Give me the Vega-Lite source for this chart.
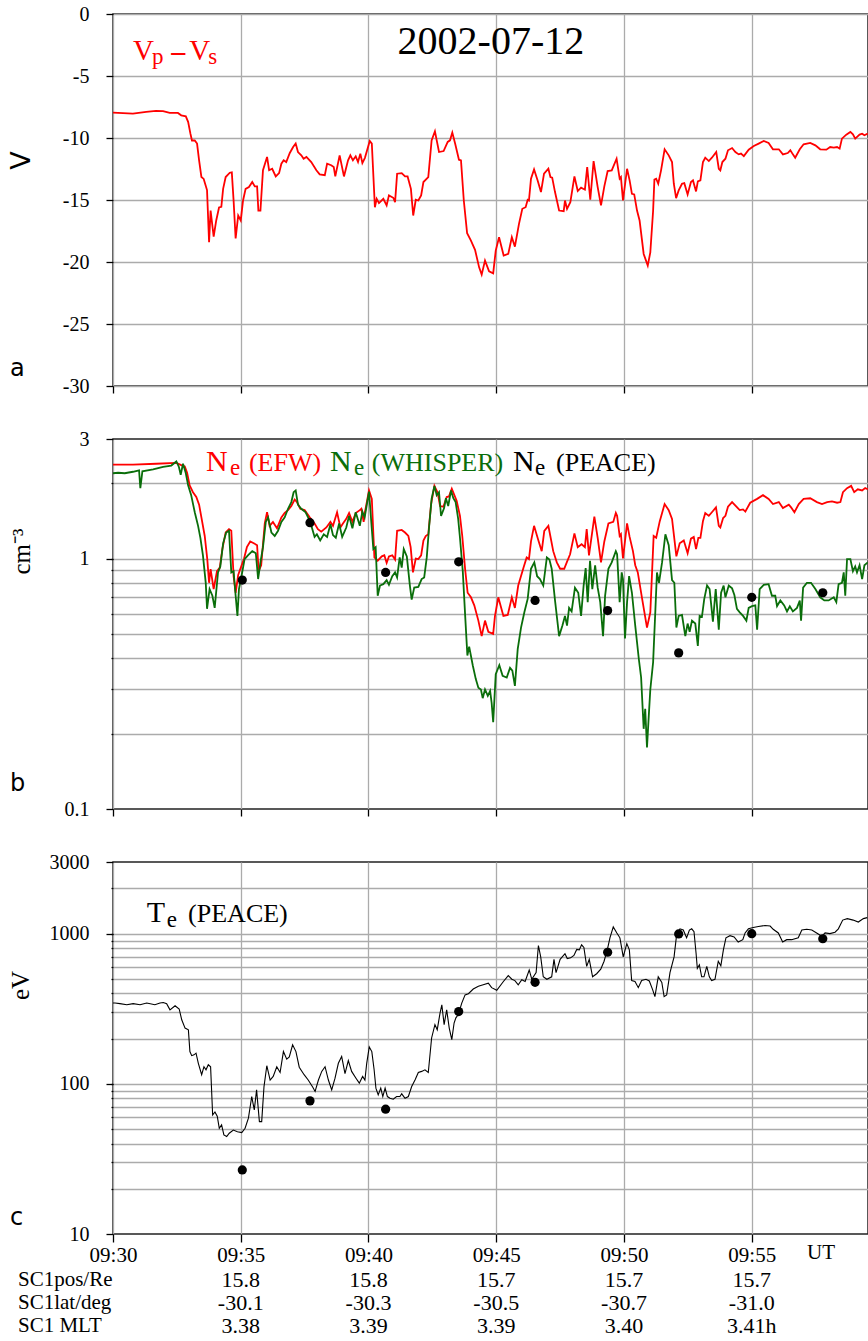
{
"$schema":"https://vega.github.io/schema/vega-lite/v6.json",
"background":"white",
"padding":{"left":6,"top":3,"right":0,"bottom":0},
"config":{
 "view":{"stroke":"#222","strokeWidth":1.5},
 "font":"Liberation Serif",
 "axis":{"labelFont":"Liberation Serif","labelFontSize":20,"labelColor":"#000","tickColor":"#000","tickWidth":1.3,"domain":false,"gridColor":"#ababab","gridWidth":1.3,"titleFont":"Liberation Serif","titleFontWeight":"normal","titleColor":"#000","titleFontSize":24,"labelFlush":false,"labelOverlap":false},
 "text":{"font":"Liberation Serif","color":"#000"}
},
"datasets":{
"vdiff":[{"t":0,"v":-7.95},{"t":0.78,"v":-8.03},{"t":1.3,"v":-7.9},{"t":1.68,"v":-7.82},{"t":1.96,"v":-7.84},{"t":2.22,"v":-7.98},{"t":2.54,"v":-7.98},{"t":2.67,"v":-8.17},{"t":2.85,"v":-8.25},{"t":2.94,"v":-8.7},{"t":3.03,"v":-9.65},{"t":3.09,"v":-10.2},{"t":3.2,"v":-10.2},{"t":3.29,"v":-10.45},{"t":3.37,"v":-11.8},{"t":3.46,"v":-13.15},{"t":3.55,"v":-13.3},{"t":3.68,"v":-14.2},{"t":3.76,"v":-18.4},{"t":3.82,"v":-15.85},{"t":3.94,"v":-17.95},{"t":4.04,"v":-16.65},{"t":4.15,"v":-15.6},{"t":4.24,"v":-15.55},{"t":4.31,"v":-14.1},{"t":4.41,"v":-13.15},{"t":4.57,"v":-12.8},{"t":4.65,"v":-12.77},{"t":4.72,"v":-15.04},{"t":4.8,"v":-18.1},{"t":4.9,"v":-16.25},{"t":5.0,"v":-16.65},{"t":5.09,"v":-15.04},{"t":5.19,"v":-14.1},{"t":5.32,"v":-13.95},{"t":5.45,"v":-13.55},{"t":5.55,"v":-13.9},{"t":5.64,"v":-13.9},{"t":5.69,"v":-15.85},{"t":5.77,"v":-15.85},{"t":5.87,"v":-12.6},{"t":6.03,"v":-11.53},{"t":6.11,"v":-12.6},{"t":6.23,"v":-12.48},{"t":6.37,"v":-13.1},{"t":6.5,"v":-12.83},{"t":6.59,"v":-12.07},{"t":6.68,"v":-11.8},{"t":6.78,"v":-11.94},{"t":6.92,"v":-11.21},{"t":7.05,"v":-10.73},{"t":7.15,"v":-10.45},{"t":7.24,"v":-11.13},{"t":7.37,"v":-11.4},{"t":7.46,"v":-11.67},{"t":7.57,"v":-11.53},{"t":7.76,"v":-11.94},{"t":7.96,"v":-12.6},{"t":8.09,"v":-12.93},{"t":8.29,"v":-13.0},{"t":8.38,"v":-12.07},{"t":8.54,"v":-12.2},{"t":8.64,"v":-12.34},{"t":8.7,"v":-13.1},{"t":8.87,"v":-11.4},{"t":9.04,"v":-13.1},{"t":9.2,"v":-11.8},{"t":9.29,"v":-11.4},{"t":9.39,"v":-11.8},{"t":9.5,"v":-11.48},{"t":9.59,"v":-11.94},{"t":9.68,"v":-11.26},{"t":9.76,"v":-12.02},{"t":9.86,"v":-11.6},{"t":10.05,"v":-10.24},{"t":10.13,"v":-10.45},{"t":10.25,"v":-15.58},{"t":10.32,"v":-14.9},{"t":10.41,"v":-15.25},{"t":10.58,"v":-14.9},{"t":10.71,"v":-15.44},{"t":10.8,"v":-14.63},{"t":10.97,"v":-14.82},{"t":11.04,"v":-15.17},{"t":11.12,"v":-12.88},{"t":11.3,"v":-12.83},{"t":11.43,"v":-13.1},{"t":11.53,"v":-13.1},{"t":11.66,"v":-14.1},{"t":11.75,"v":-16.25},{"t":11.85,"v":-14.98},{"t":11.95,"v":-15.04},{"t":12.06,"v":-14.63},{"t":12.15,"v":-13.55},{"t":12.34,"v":-13.15},{"t":12.47,"v":-10.19},{"t":12.6,"v":-9.46},{"t":12.76,"v":-11.13},{"t":12.94,"v":-11.05},{"t":13.1,"v":-10.32},{"t":13.19,"v":-10.19},{"t":13.28,"v":-9.56},{"t":13.39,"v":-10.45},{"t":13.54,"v":-11.75},{"t":13.62,"v":-11.8},{"t":13.73,"v":-15.04},{"t":13.86,"v":-17.68},{"t":14.01,"v":-18.27},{"t":14.17,"v":-19.02},{"t":14.33,"v":-20.43},{"t":14.43,"v":-21.02},{"t":14.56,"v":-19.89},{"t":14.72,"v":-20.75},{"t":14.88,"v":-20.91},{"t":14.98,"v":-19.08},{"t":15.11,"v":-18.0},{"t":15.29,"v":-19.48},{"t":15.47,"v":-19.35},{"t":15.61,"v":-18.0},{"t":15.73,"v":-18.76},{"t":15.89,"v":-16.92},{"t":16.02,"v":-15.71},{"t":16.15,"v":-15.58},{"t":16.23,"v":-14.98},{"t":16.28,"v":-15.04},{"t":16.36,"v":-13.28},{"t":16.48,"v":-12.53},{"t":16.62,"v":-13.42},{"t":16.75,"v":-14.36},{"t":16.87,"v":-12.88},{"t":17.04,"v":-12.48},{"t":17.12,"v":-13.15},{"t":17.19,"v":-13.2},{"t":17.3,"v":-14.36},{"t":17.46,"v":-15.85},{"t":17.64,"v":-15.9},{"t":17.69,"v":-15.04},{"t":17.77,"v":-15.71},{"t":17.9,"v":-15.17},{"t":18.06,"v":-13.1},{"t":18.19,"v":-14.28},{"t":18.32,"v":-14.01},{"t":18.47,"v":-14.17},{"t":18.56,"v":-12.34},{"t":18.68,"v":-14.98},{"t":18.81,"v":-11.86},{"t":18.97,"v":-13.96},{"t":19.1,"v":-15.44},{"t":19.23,"v":-13.9},{"t":19.36,"v":-12.67},{"t":19.52,"v":-12.61},{"t":19.71,"v":-11.67},{"t":19.83,"v":-13.28},{"t":19.88,"v":-13.15},{"t":19.96,"v":-15.04},{"t":20.12,"v":-12.48},{"t":20.22,"v":-13.42},{"t":20.31,"v":-14.5},{"t":20.4,"v":-14.55},{"t":20.51,"v":-15.85},{"t":20.61,"v":-16.65},{"t":20.77,"v":-19.35},{"t":20.93,"v":-20.29},{"t":21.03,"v":-19.22},{"t":21.14,"v":-15.85},{"t":21.19,"v":-13.36},{"t":21.26,"v":-13.28},{"t":21.34,"v":-13.69},{"t":21.45,"v":-12.61},{"t":21.59,"v":-10.91},{"t":21.75,"v":-11.4},{"t":21.88,"v":-11.94},{"t":21.95,"v":-13.69},{"t":22.04,"v":-14.85},{"t":22.14,"v":-14.23},{"t":22.27,"v":-13.69},{"t":22.36,"v":-13.64},{"t":22.49,"v":-14.55},{"t":22.62,"v":-13.55},{"t":22.7,"v":-13.42},{"t":22.82,"v":-14.31},{"t":22.89,"v":-13.5},{"t":22.99,"v":-13.42},{"t":23.09,"v":-11.94},{"t":23.18,"v":-11.59},{"t":23.32,"v":-11.86},{"t":23.44,"v":-11.59},{"t":23.61,"v":-11.13},{"t":23.71,"v":-12.48},{"t":23.77,"v":-12.61},{"t":23.85,"v":-11.94},{"t":23.97,"v":-11.67},{"t":24.07,"v":-10.99},{"t":24.23,"v":-10.81},{"t":24.36,"v":-11.13},{"t":24.49,"v":-11.32},{"t":24.58,"v":-11.26},{"t":24.69,"v":-11.46},{"t":24.88,"v":-10.94},{"t":25.08,"v":-10.65},{"t":25.27,"v":-10.45},{"t":25.47,"v":-10.24},{"t":25.66,"v":-10.4},{"t":25.83,"v":-10.91},{"t":26.06,"v":-10.91},{"t":26.22,"v":-11.32},{"t":26.41,"v":-11.21},{"t":26.51,"v":-10.99},{"t":26.61,"v":-11.32},{"t":26.7,"v":-11.59},{"t":26.88,"v":-10.91},{"t":27.03,"v":-10.51},{"t":27.29,"v":-10.4},{"t":27.49,"v":-10.59},{"t":27.68,"v":-10.91},{"t":27.92,"v":-10.94},{"t":28.07,"v":-10.73},{"t":28.21,"v":-10.78},{"t":28.34,"v":-10.73},{"t":28.44,"v":-10.86},{"t":28.53,"v":-10.05},{"t":28.7,"v":-9.73},{"t":28.86,"v":-9.51},{"t":28.96,"v":-9.7},{"t":29.05,"v":-10.05},{"t":29.22,"v":-9.73},{"t":29.32,"v":-9.65},{"t":29.41,"v":-9.78},{"t":29.54,"v":-9.65}],
"efw":[{"t":0,"n":2.37},{"t":0.78,"n":2.37},{"t":1.69,"n":2.39},{"t":2.48,"n":2.41},{"t":2.67,"n":2.36},{"t":2.81,"n":2.33},{"t":2.9,"n":2.2},{"t":3.0,"n":1.96},{"t":3.13,"n":1.84},{"t":3.26,"n":1.76},{"t":3.37,"n":1.64},{"t":3.46,"n":1.46},{"t":3.59,"n":1.23},{"t":3.69,"n":0.995},{"t":3.76,"n":0.8},{"t":3.82,"n":0.908},{"t":3.94,"n":0.755},{"t":4.07,"n":0.89},{"t":4.18,"n":0.92},{"t":4.28,"n":1.09},{"t":4.41,"n":1.27},{"t":4.54,"n":1.31},{"t":4.63,"n":1.29},{"t":4.72,"n":0.85},{"t":4.8,"n":0.73},{"t":4.9,"n":0.86},{"t":5.02,"n":0.93},{"t":5.13,"n":1.0},{"t":5.24,"n":1.11},{"t":5.37,"n":1.17},{"t":5.51,"n":1.15},{"t":5.64,"n":1.13},{"t":5.7,"n":0.89},{"t":5.8,"n":0.94},{"t":5.94,"n":1.38},{"t":6.03,"n":1.53},{"t":6.13,"n":1.35},{"t":6.26,"n":1.4},{"t":6.42,"n":1.32},{"t":6.59,"n":1.46},{"t":6.72,"n":1.52},{"t":6.85,"n":1.56},{"t":6.98,"n":1.62},{"t":7.11,"n":1.72},{"t":7.2,"n":1.68},{"t":7.33,"n":1.58},{"t":7.5,"n":1.56},{"t":7.7,"n":1.46},{"t":7.89,"n":1.38},{"t":8.02,"n":1.31},{"t":8.15,"n":1.28},{"t":8.35,"n":1.33},{"t":8.51,"n":1.4},{"t":8.61,"n":1.35},{"t":8.77,"n":1.53},{"t":8.9,"n":1.33},{"t":9.0,"n":1.38},{"t":9.13,"n":1.44},{"t":9.24,"n":1.52},{"t":9.37,"n":1.4},{"t":9.5,"n":1.52},{"t":9.66,"n":1.56},{"t":9.72,"n":1.58},{"t":9.81,"n":1.4},{"t":9.86,"n":1.53},{"t":10.02,"n":1.87},{"t":10.13,"n":1.73},{"t":10.23,"n":1.01},{"t":10.36,"n":0.98},{"t":10.52,"n":1.02},{"t":10.62,"n":1.03},{"t":10.71,"n":0.96},{"t":10.8,"n":1.02},{"t":10.93,"n":1.03},{"t":11.04,"n":0.99},{"t":11.12,"n":1.29},{"t":11.3,"n":1.3},{"t":11.43,"n":1.27},{"t":11.56,"n":1.23},{"t":11.65,"n":1.11},{"t":11.74,"n":0.88},{"t":11.85,"n":1.0},{"t":11.95,"n":0.995},{"t":12.06,"n":1.03},{"t":12.15,"n":1.18},{"t":12.24,"n":1.23},{"t":12.34,"n":1.25},{"t":12.45,"n":1.65},{"t":12.58,"n":1.95},{"t":12.71,"n":1.83},{"t":12.8,"n":1.62},{"t":12.93,"n":1.61},{"t":13.06,"n":1.76},{"t":13.15,"n":1.77},{"t":13.26,"n":1.9},{"t":13.36,"n":1.79},{"t":13.45,"n":1.7},{"t":13.58,"n":1.48},{"t":13.67,"n":1.23},{"t":13.78,"n":0.91},{"t":13.88,"n":0.73},{"t":14.01,"n":0.7},{"t":14.14,"n":0.65},{"t":14.3,"n":0.565},{"t":14.43,"n":0.49},{"t":14.56,"n":0.565},{"t":14.69,"n":0.51},{"t":14.88,"n":0.5},{"t":14.95,"n":0.59},{"t":15.08,"n":0.7},{"t":15.28,"n":0.59},{"t":15.45,"n":0.595},{"t":15.61,"n":0.7},{"t":15.73,"n":0.635},{"t":15.86,"n":0.78},{"t":16.06,"n":0.915},{"t":16.19,"n":1.01},{"t":16.28,"n":0.995},{"t":16.36,"n":1.17},{"t":16.48,"n":1.35},{"t":16.65,"n":1.18},{"t":16.78,"n":1.07},{"t":16.88,"n":1.29},{"t":17.04,"n":1.35},{"t":17.13,"n":1.21},{"t":17.23,"n":1.07},{"t":17.37,"n":0.965},{"t":17.5,"n":0.91},{"t":17.66,"n":0.91},{"t":17.76,"n":0.965},{"t":17.89,"n":1.04},{"t":18.06,"n":1.26},{"t":18.19,"n":1.11},{"t":18.34,"n":1.14},{"t":18.47,"n":1.11},{"t":18.54,"n":1.31},{"t":18.63,"n":1.03},{"t":18.84,"n":1.47},{"t":18.97,"n":1.21},{"t":19.1,"n":0.965},{"t":19.23,"n":1.17},{"t":19.39,"n":1.38},{"t":19.58,"n":1.4},{"t":19.68,"n":1.52},{"t":19.73,"n":1.48},{"t":19.83,"n":1.23},{"t":19.88,"n":1.25},{"t":19.96,"n":1.0},{"t":20.12,"n":1.38},{"t":20.22,"n":1.22},{"t":20.35,"n":1.07},{"t":20.44,"n":0.94},{"t":20.54,"n":0.88},{"t":20.71,"n":0.69},{"t":20.9,"n":0.53},{"t":21.03,"n":0.61},{"t":21.16,"n":1.23},{"t":21.26,"n":1.21},{"t":21.4,"n":1.41},{"t":21.59,"n":1.65},{"t":21.75,"n":1.56},{"t":21.88,"n":1.44},{"t":22.05,"n":1.02},{"t":22.18,"n":1.15},{"t":22.34,"n":1.18},{"t":22.49,"n":1.05},{"t":22.62,"n":1.2},{"t":22.73,"n":1.22},{"t":22.82,"n":1.09},{"t":22.91,"n":1.21},{"t":22.99,"n":1.21},{"t":23.09,"n":1.41},{"t":23.18,"n":1.52},{"t":23.32,"n":1.48},{"t":23.44,"n":1.53},{"t":23.6,"n":1.6},{"t":23.71,"n":1.35},{"t":23.77,"n":1.33},{"t":23.88,"n":1.45},{"t":23.97,"n":1.48},{"t":24.07,"n":1.61},{"t":24.23,"n":1.68},{"t":24.4,"n":1.61},{"t":24.53,"n":1.56},{"t":24.66,"n":1.57},{"t":24.75,"n":1.54},{"t":24.94,"n":1.67},{"t":25.21,"n":1.73},{"t":25.44,"n":1.79},{"t":25.66,"n":1.73},{"t":25.83,"n":1.65},{"t":26.06,"n":1.68},{"t":26.22,"n":1.59},{"t":26.45,"n":1.64},{"t":26.54,"n":1.6},{"t":26.67,"n":1.53},{"t":26.84,"n":1.65},{"t":27.03,"n":1.73},{"t":27.29,"n":1.74},{"t":27.55,"n":1.68},{"t":27.75,"n":1.65},{"t":27.95,"n":1.68},{"t":28.14,"n":1.69},{"t":28.34,"n":1.67},{"t":28.47,"n":1.68},{"t":28.57,"n":1.84},{"t":28.73,"n":1.91},{"t":28.89,"n":1.95},{"t":29.01,"n":1.84},{"t":29.15,"n":1.89},{"t":29.32,"n":1.87},{"t":29.44,"n":1.91},{"t":29.54,"n":1.89}],
"whisper":[{"t":0,"n":2.19},{"t":0.2,"n":2.2},{"t":0.46,"n":2.19},{"t":0.78,"n":2.22},{"t":1.02,"n":2.25},{"t":1.07,"n":1.91},{"t":1.15,"n":2.23},{"t":1.57,"n":2.27},{"t":1.96,"n":2.32},{"t":2.28,"n":2.35},{"t":2.48,"n":2.44},{"t":2.58,"n":2.32},{"t":2.65,"n":2.16},{"t":2.74,"n":2.39},{"t":2.85,"n":2.19},{"t":2.94,"n":1.96},{"t":3.06,"n":1.79},{"t":3.2,"n":1.53},{"t":3.33,"n":1.35},{"t":3.42,"n":1.21},{"t":3.52,"n":1.03},{"t":3.63,"n":0.8},{"t":3.68,"n":0.63},{"t":3.78,"n":0.755},{"t":3.89,"n":0.71},{"t":3.98,"n":0.635},{"t":4.11,"n":0.88},{"t":4.2,"n":0.93},{"t":4.31,"n":1.15},{"t":4.43,"n":1.27},{"t":4.54,"n":1.29},{"t":4.63,"n":0.88},{"t":4.72,"n":0.89},{"t":4.8,"n":0.71},{"t":4.87,"n":0.59},{"t":4.93,"n":0.755},{"t":5.02,"n":0.84},{"t":5.15,"n":0.995},{"t":5.28,"n":1.03},{"t":5.45,"n":1.07},{"t":5.59,"n":1.05},{"t":5.68,"n":0.828},{"t":5.77,"n":0.965},{"t":5.87,"n":1.11},{"t":5.98,"n":1.4},{"t":6.07,"n":1.46},{"t":6.2,"n":1.27},{"t":6.33,"n":1.23},{"t":6.46,"n":1.29},{"t":6.59,"n":1.4},{"t":6.72,"n":1.46},{"t":6.85,"n":1.58},{"t":6.98,"n":1.68},{"t":7.07,"n":1.84},{"t":7.15,"n":1.87},{"t":7.24,"n":1.64},{"t":7.37,"n":1.58},{"t":7.54,"n":1.53},{"t":7.72,"n":1.4},{"t":7.89,"n":1.22},{"t":7.98,"n":1.25},{"t":8.11,"n":1.18},{"t":8.25,"n":1.25},{"t":8.38,"n":1.22},{"t":8.51,"n":1.37},{"t":8.61,"n":1.24},{"t":8.72,"n":1.21},{"t":8.85,"n":1.38},{"t":8.97,"n":1.22},{"t":9.13,"n":1.33},{"t":9.24,"n":1.48},{"t":9.37,"n":1.32},{"t":9.5,"n":1.53},{"t":9.66,"n":1.35},{"t":9.76,"n":1.54},{"t":9.85,"n":1.46},{"t":10.02,"n":1.85},{"t":10.13,"n":1.31},{"t":10.19,"n":1.09},{"t":10.28,"n":1.11},{"t":10.36,"n":0.71},{"t":10.45,"n":0.78},{"t":10.58,"n":0.79},{"t":10.71,"n":0.82},{"t":10.8,"n":0.785},{"t":10.93,"n":0.85},{"t":11.04,"n":0.88},{"t":11.12,"n":0.84},{"t":11.22,"n":1.01},{"t":11.3,"n":0.92},{"t":11.38,"n":1.09},{"t":11.5,"n":1.02},{"t":11.62,"n":0.78},{"t":11.69,"n":0.685},{"t":11.79,"n":0.765},{"t":11.95,"n":0.77},{"t":12.08,"n":0.828},{"t":12.18,"n":0.84},{"t":12.28,"n":1.01},{"t":12.37,"n":1.33},{"t":12.47,"n":1.73},{"t":12.58,"n":1.95},{"t":12.67,"n":1.79},{"t":12.76,"n":1.84},{"t":12.84,"n":1.48},{"t":12.96,"n":1.59},{"t":13.03,"n":1.74},{"t":13.12,"n":1.62},{"t":13.23,"n":1.87},{"t":13.32,"n":1.74},{"t":13.41,"n":1.68},{"t":13.51,"n":1.44},{"t":13.58,"n":1.21},{"t":13.69,"n":0.89},{"t":13.78,"n":0.6},{"t":13.87,"n":0.41},{"t":13.94,"n":0.445},{"t":14.08,"n":0.375},{"t":14.2,"n":0.33},{"t":14.3,"n":0.305},{"t":14.4,"n":0.3},{"t":14.47,"n":0.277},{"t":14.56,"n":0.3},{"t":14.67,"n":0.283},{"t":14.76,"n":0.296},{"t":14.82,"n":0.265},{"t":14.88,"n":0.222},{"t":14.98,"n":0.345},{"t":15.12,"n":0.375},{"t":15.25,"n":0.34},{"t":15.41,"n":0.335},{"t":15.54,"n":0.366},{"t":15.63,"n":0.357},{"t":15.73,"n":0.31},{"t":15.84,"n":0.435},{"t":15.97,"n":0.53},{"t":16.1,"n":0.61},{"t":16.23,"n":0.69},{"t":16.36,"n":0.91},{"t":16.49,"n":0.965},{"t":16.6,"n":0.85},{"t":16.71,"n":0.828},{"t":16.84,"n":0.78},{"t":16.98,"n":1.01},{"t":17.08,"n":0.99},{"t":17.17,"n":0.91},{"t":17.3,"n":0.68},{"t":17.46,"n":0.49},{"t":17.59,"n":0.54},{"t":17.69,"n":0.59},{"t":17.77,"n":0.54},{"t":17.85,"n":0.635},{"t":17.95,"n":0.615},{"t":18.08,"n":0.765},{"t":18.21,"n":0.73},{"t":18.32,"n":0.59},{"t":18.42,"n":0.78},{"t":18.5,"n":0.915},{"t":18.58,"n":0.67},{"t":18.67,"n":0.98},{"t":18.76,"n":0.755},{"t":18.87,"n":0.94},{"t":18.97,"n":0.765},{"t":19.07,"n":0.67},{"t":19.18,"n":0.49},{"t":19.26,"n":0.71},{"t":19.39,"n":0.91},{"t":19.52,"n":0.965},{"t":19.68,"n":1.07},{"t":19.73,"n":1.04},{"t":19.83,"n":0.67},{"t":19.91,"n":0.88},{"t":19.96,"n":0.828},{"t":20.04,"n":0.48},{"t":20.12,"n":0.67},{"t":20.2,"n":0.85},{"t":20.31,"n":0.73},{"t":20.44,"n":0.54},{"t":20.58,"n":0.397},{"t":20.67,"n":0.335},{"t":20.77,"n":0.209},{"t":20.83,"n":0.251},{"t":20.9,"n":0.176},{"t":20.97,"n":0.236},{"t":21.03,"n":0.3},{"t":21.14,"n":0.386},{"t":21.23,"n":0.629},{"t":21.29,"n":0.88},{"t":21.37,"n":0.8},{"t":21.49,"n":0.965},{"t":21.62,"n":1.25},{"t":21.75,"n":1.13},{"t":21.88,"n":0.82},{"t":21.97,"n":0.8},{"t":22.05,"n":0.53},{"t":22.14,"n":0.59},{"t":22.27,"n":0.595},{"t":22.4,"n":0.49},{"t":22.49,"n":0.55},{"t":22.57,"n":0.51},{"t":22.66,"n":0.565},{"t":22.79,"n":0.55},{"t":22.89,"n":0.448},{"t":22.96,"n":0.59},{"t":23.05,"n":0.585},{"t":23.14,"n":0.689},{"t":23.25,"n":0.78},{"t":23.35,"n":0.755},{"t":23.48,"n":0.56},{"t":23.59,"n":0.755},{"t":23.71,"n":0.52},{"t":23.8,"n":0.73},{"t":23.9,"n":0.78},{"t":23.97,"n":0.7},{"t":24.1,"n":0.78},{"t":24.23,"n":0.76},{"t":24.32,"n":0.715},{"t":24.42,"n":0.629},{"t":24.53,"n":0.61},{"t":24.66,"n":0.59},{"t":24.79,"n":0.565},{"t":24.88,"n":0.635},{"t":25.01,"n":0.645},{"t":25.14,"n":0.65},{"t":25.21,"n":0.52},{"t":25.31,"n":0.755},{"t":25.47,"n":0.785},{"t":25.66,"n":0.79},{"t":25.79,"n":0.71},{"t":25.92,"n":0.71},{"t":25.99,"n":0.645},{"t":26.12,"n":0.68},{"t":26.27,"n":0.65},{"t":26.38,"n":0.615},{"t":26.49,"n":0.645},{"t":26.61,"n":0.615},{"t":26.77,"n":0.635},{"t":26.88,"n":0.68},{"t":26.93,"n":0.565},{"t":27.01,"n":0.765},{"t":27.16,"n":0.8},{"t":27.32,"n":0.8},{"t":27.49,"n":0.755},{"t":27.68,"n":0.7},{"t":27.84,"n":0.68},{"t":28.01,"n":0.68},{"t":28.21,"n":0.7},{"t":28.31,"n":0.67},{"t":28.4,"n":0.79},{"t":28.53,"n":0.8},{"t":28.6,"n":0.88},{"t":28.66,"n":0.71},{"t":28.73,"n":0.995},{"t":28.86,"n":0.995},{"t":28.96,"n":0.89},{"t":29.05,"n":0.93},{"t":29.12,"n":0.88},{"t":29.22,"n":0.94},{"t":29.32,"n":0.828},{"t":29.41,"n":0.94},{"t":29.54,"n":0.965}],
"te":[{"t":0,"te":345},{"t":0.08,"te":345},{"t":0.27,"te":342},{"t":0.54,"te":336},{"t":0.79,"te":342},{"t":1.06,"te":336},{"t":1.32,"te":345},{"t":1.64,"te":336},{"t":1.84,"te":345},{"t":1.97,"te":348},{"t":2.1,"te":342},{"t":2.23,"te":311},{"t":2.43,"te":331},{"t":2.59,"te":315},{"t":2.69,"te":267},{"t":2.82,"te":235},{"t":2.95,"te":229},{"t":3.01,"te":164},{"t":3.08,"te":154},{"t":3.17,"te":156},{"t":3.25,"te":160},{"t":3.34,"te":137},{"t":3.47,"te":115},{"t":3.56,"te":130},{"t":3.64,"te":124},{"t":3.73,"te":134},{"t":3.82,"te":130},{"t":3.9,"te":62},{"t":3.99,"te":65},{"t":4.08,"te":60.8},{"t":4.16,"te":50.6},{"t":4.25,"te":53.3},{"t":4.34,"te":45.7},{"t":4.45,"te":44.6},{"t":4.55,"te":46.9},{"t":4.71,"te":49.2},{"t":4.87,"te":48},{"t":5.04,"te":47.3},{"t":5.17,"te":50.6},{"t":5.3,"te":59.1},{"t":5.43,"te":82.3},{"t":5.53,"te":67.1},{"t":5.62,"te":91.2},{"t":5.73,"te":56},{"t":5.82,"te":56},{"t":5.91,"te":95.9},{"t":6.02,"te":132},{"t":6.15,"te":106},{"t":6.27,"te":112},{"t":6.41,"te":130},{"t":6.54,"te":119},{"t":6.67,"te":164},{"t":6.8,"te":146},{"t":6.9,"te":151},{"t":7.03,"te":182},{"t":7.16,"te":164},{"t":7.29,"te":129},{"t":7.48,"te":115},{"t":7.64,"te":106},{"t":7.82,"te":95},{"t":7.91,"te":89},{"t":8.04,"te":106},{"t":8.17,"te":121},{"t":8.3,"te":130},{"t":8.43,"te":106},{"t":8.56,"te":91.2},{"t":8.69,"te":109},{"t":8.82,"te":137},{"t":8.95,"te":152},{"t":9.08,"te":117},{"t":9.21,"te":143},{"t":9.34,"te":121},{"t":9.51,"te":109},{"t":9.64,"te":101},{"t":9.77,"te":112},{"t":9.86,"te":106},{"t":9.93,"te":137},{"t":10.03,"te":176},{"t":10.13,"te":164},{"t":10.22,"te":124},{"t":10.29,"te":93.6},{"t":10.38,"te":84.4},{"t":10.48,"te":93.6},{"t":10.56,"te":82.3},{"t":10.65,"te":93.6},{"t":10.74,"te":82.3},{"t":10.84,"te":80.2},{"t":10.97,"te":79},{"t":11.1,"te":82.3},{"t":11.23,"te":82.3},{"t":11.3,"te":85.8},{"t":11.43,"te":80.2},{"t":11.56,"te":82.3},{"t":11.69,"te":95.9},{"t":11.82,"te":106},{"t":11.95,"te":119},{"t":12.08,"te":121},{"t":12.21,"te":124},{"t":12.34,"te":119},{"t":12.47,"te":202},{"t":12.6,"te":248},{"t":12.69,"te":229},{"t":12.8,"te":296},{"t":12.87,"te":336},{"t":12.96,"te":248},{"t":13.06,"te":311},{"t":13.16,"te":235},{"t":13.26,"te":197},{"t":13.35,"te":254},{"t":13.42,"te":275},{"t":13.51,"te":288},{"t":13.65,"te":345},{"t":13.78,"te":391},{"t":13.91,"te":398},{"t":14.1,"te":428},{"t":14.3,"te":446},{"t":14.49,"te":457},{"t":14.69,"te":468},{"t":14.82,"te":437},{"t":15.02,"te":420},{"t":15.28,"te":480},{"t":15.47,"te":526},{"t":15.61,"te":497},{"t":15.73,"te":487},{"t":15.86,"te":457},{"t":16.0,"te":493},{"t":16.13,"te":480},{"t":16.29,"te":573},{"t":16.39,"te":497},{"t":16.56,"te":550},{"t":16.65,"te":834},{"t":16.74,"te":700},{"t":16.84,"te":516},{"t":16.98,"te":497},{"t":17.17,"te":516},{"t":17.26,"te":674},{"t":17.34,"te":550},{"t":17.5,"te":674},{"t":17.69,"te":736},{"t":17.78,"te":683},{"t":17.91,"te":690},{"t":18.04,"te":716},{"t":18.15,"te":785},{"t":18.25,"te":780},{"t":18.34,"te":843},{"t":18.43,"te":810},{"t":18.54,"te":606},{"t":18.64,"te":674},{"t":18.77,"te":516},{"t":18.93,"te":541},{"t":19.09,"te":580},{"t":19.22,"te":655},{"t":19.35,"te":785},{"t":19.45,"te":938},{"t":19.58,"te":1109},{"t":19.72,"te":1011},{"t":19.84,"te":938},{"t":19.97,"te":700},{"t":20.11,"te":858},{"t":20.21,"te":780},{"t":20.3,"te":487},{"t":20.43,"te":480},{"t":20.56,"te":437},{"t":20.69,"te":487},{"t":20.86,"te":497},{"t":20.99,"te":484},{"t":21.12,"te":424},{"t":21.21,"te":381},{"t":21.34,"te":516},{"t":21.48,"te":474},{"t":21.57,"te":381},{"t":21.67,"te":391},{"t":21.8,"te":550},{"t":21.96,"te":700},{"t":22.06,"te":985},{"t":22.19,"te":1077},{"t":22.32,"te":1057},{"t":22.45,"te":938},{"t":22.56,"te":1057},{"t":22.65,"te":1077},{"t":22.74,"te":1031},{"t":22.82,"te":743},{"t":22.87,"te":586},{"t":22.95,"te":620},{"t":23.04,"te":516},{"t":23.13,"te":516},{"t":23.24,"te":606},{"t":23.34,"te":516},{"t":23.43,"te":487},{"t":23.56,"te":497},{"t":23.69,"te":655},{"t":23.79,"te":611},{"t":23.89,"te":780},{"t":23.99,"te":938},{"t":24.15,"te":969},{"t":24.31,"te":950},{"t":24.47,"te":880},{"t":24.65,"te":911},{"t":24.74,"te":1011},{"t":24.87,"te":1077},{"t":25.06,"te":1100},{"t":25.26,"te":1115},{"t":25.52,"te":1133},{"t":25.72,"te":1124},{"t":25.84,"te":1069},{"t":26.04,"te":1011},{"t":26.21,"te":880},{"t":26.37,"te":912},{"t":26.56,"te":912},{"t":26.82,"te":938},{"t":26.96,"te":1057},{"t":27.15,"te":1069},{"t":27.35,"te":1057},{"t":27.54,"te":1011},{"t":27.74,"te":960},{"t":27.87,"te":1011},{"t":28.06,"te":1000},{"t":28.26,"te":1023},{"t":28.39,"te":1077},{"t":28.56,"te":1231},{"t":28.74,"te":1259},{"t":28.97,"te":1231},{"t":29.17,"te":1195},{"t":29.37,"te":1259},{"t":29.52,"te":1278}],
"peace":[{"t":5.06,"n":0.82,"te":26.7},{"t":7.71,"n":1.39,"te":77},{"t":10.67,"n":0.88,"te":67.8},{"t":13.53,"n":0.97,"te":303},{"t":16.52,"n":0.68,"te":474},{"t":19.36,"n":0.62,"te":752},{"t":22.14,"n":0.42,"te":995},{"t":25.0,"n":0.7,"te":1000},{"t":27.78,"n":0.73,"te":925}],
"orbit":[{"t":5,"pos":"15.8","lat":"-30.1","mlt":"3.38"},{"t":10,"pos":"15.8","lat":"-30.3","mlt":"3.39"},{"t":15,"pos":"15.7","lat":"-30.5","mlt":"3.39"},{"t":20,"pos":"15.7","lat":"-30.7","mlt":"3.40"},{"t":25,"pos":"15.7","lat":"-31.0","mlt":"3.41h"}]
},
"spacing":31,
"vconcat":[
{
 "width":755,"height":372,
 "layer":[
  {"data":{"name":"vdiff"},"mark":{"type":"line","color":"#ff0000","strokeWidth":1.8},
   "encoding":{
    "x":{"field":"t","type":"quantitative","scale":{"domain":[0,29.55],"nice":false,"zero":false},"axis":{"values":[0,5,10,15,20,25],"labels":false,"tickSize":7,"title":null}},
    "y":{"field":"v","type":"quantitative","scale":{"domain":[-30,0],"nice":false,"zero":false},"axis":{"values":[-30,-25,-20,-15,-10,-5,0],"tickSize":7,"labelPadding":17,"labelExpr":"'' + datum.value","title":"V","titleFont":"DejaVu Sans","titleFontSize":27,"titlePadding":27,"titleY":146}}}},
  {"data":{"values":[{}]},"mark":{"type":"text","text":"2002-07-12","fontSize":40,"align":"center","baseline":"alphabetic"},
   "encoding":{"x":{"datum":14.79,"type":"quantitative"},"y":{"datum":-3.23,"type":"quantitative"}}},
  {"data":{"values":[{}]},"mark":{"type":"text","text":"V","fontSize":29,"color":"#ff0000","align":"left","baseline":"alphabetic"},
   "encoding":{"x":{"datum":0.78,"type":"quantitative"},"y":{"datum":-3.72,"type":"quantitative"}}},
  {"data":{"values":[{}]},"mark":{"type":"text","text":"p","fontSize":23,"color":"#ff0000","align":"left","baseline":"alphabetic"},
   "encoding":{"x":{"datum":1.53,"type":"quantitative"},"y":{"datum":-4.04,"type":"quantitative"}}},
  {"data":{"values":[{}]},"mark":{"type":"text","text":"–","fontSize":28,"fontWeight":"bold","color":"#ff0000","align":"left","baseline":"alphabetic"},
   "encoding":{"x":{"datum":2.28,"type":"quantitative"},"y":{"datum":-3.72,"type":"quantitative"}}},
  {"data":{"values":[{}]},"mark":{"type":"text","text":"V","fontSize":29,"color":"#ff0000","align":"left","baseline":"alphabetic"},
   "encoding":{"x":{"datum":2.98,"type":"quantitative"},"y":{"datum":-3.72,"type":"quantitative"}}},
  {"data":{"values":[{}]},"mark":{"type":"text","text":"s","fontSize":23,"color":"#ff0000","align":"left","baseline":"alphabetic"},
   "encoding":{"x":{"datum":3.73,"type":"quantitative"},"y":{"datum":-4.04,"type":"quantitative"}}},
  {"data":{"values":[{}]},"mark":{"type":"text","text":"a","font":"DejaVu Sans","fontSize":24,"align":"left","baseline":"alphabetic"},
   "encoding":{"x":{"datum":-4.03,"type":"quantitative"},"y":{"datum":-29.18,"type":"quantitative"}}}
 ]
},
{
 "width":755,"height":370,
 "resolve":{"axis":{"y":"independent"}},
 "layer":[
  {"data":{"name":"efw"},"mark":{"type":"line","color":"#ff0000","strokeWidth":1.8},
   "encoding":{
    "x":{"field":"t","type":"quantitative","scale":{"domain":[0,29.55],"nice":false,"zero":false},"axis":{"values":[0,5,10,15,20,25],"labels":false,"tickSize":7,"title":null}},
    "y":{"field":"n","type":"quantitative","scale":{"type":"log","domain":[0.1,3],"nice":false},"axis":{"orient":"left","values":[0.2,0.3,0.4,0.5,0.6,0.7,0.8,0.9,1,2],"labels":false,"tickSize":2,"title":null}}}},
  {"data":{"name":"whisper"},"mark":{"type":"line","color":"#0a6e0a","strokeWidth":1.8},
   "encoding":{"x":{"field":"t","type":"quantitative"},"y":{"field":"n","type":"quantitative","axis":null}}},
  {"data":{"name":"peace"},"mark":{"type":"circle","color":"#000","size":85,"opacity":1},
   "encoding":{"x":{"field":"t","type":"quantitative"},"y":{"field":"n","type":"quantitative","axis":{"orient":"left","values":[0.1,1,3],"format":"~g","grid":false,"tickSize":7,"labelPadding":17,"title":"cm⁻³","titleFontSize":25,"titlePadding":30,"titleY":112}}}},
  {"data":{"values":[{}]},"mark":{"type":"text","text":"N","fontSize":30,"color":"#ff0000","align":"left","baseline":"alphabetic"},
   "encoding":{"x":{"datum":3.64,"type":"quantitative"},"y":{"datum":2.235,"type":"quantitative","axis":null}}},
  {"data":{"values":[{}]},"mark":{"type":"text","text":"e","fontSize":23,"color":"#ff0000","align":"left","baseline":"alphabetic"},
   "encoding":{"x":{"datum":4.58,"type":"quantitative"},"y":{"datum":2.154,"type":"quantitative","axis":null}}},
  {"data":{"values":[{}]},"mark":{"type":"text","text":"(EFW)","fontSize":26,"color":"#ff0000","align":"left","baseline":"alphabetic"},
   "encoding":{"x":{"datum":5.32,"type":"quantitative"},"y":{"datum":2.235,"type":"quantitative","axis":null}}},
  {"data":{"values":[{}]},"mark":{"type":"text","text":"N","fontSize":30,"color":"#0a6e0a","align":"left","baseline":"alphabetic"},
   "encoding":{"x":{"datum":8.49,"type":"quantitative"},"y":{"datum":2.235,"type":"quantitative","axis":null}}},
  {"data":{"values":[{}]},"mark":{"type":"text","text":"e","fontSize":23,"color":"#0a6e0a","align":"left","baseline":"alphabetic"},
   "encoding":{"x":{"datum":9.43,"type":"quantitative"},"y":{"datum":2.154,"type":"quantitative","axis":null}}},
  {"data":{"values":[{}]},"mark":{"type":"text","text":"(WHISPER)","fontSize":26,"color":"#0a6e0a","align":"left","baseline":"alphabetic"},
   "encoding":{"x":{"datum":10.13,"type":"quantitative"},"y":{"datum":2.235,"type":"quantitative","axis":null}}},
  {"data":{"values":[{}]},"mark":{"type":"text","text":"N","fontSize":30,"color":"#000","align":"left","baseline":"alphabetic"},
   "encoding":{"x":{"datum":15.66,"type":"quantitative"},"y":{"datum":2.235,"type":"quantitative","axis":null}}},
  {"data":{"values":[{}]},"mark":{"type":"text","text":"e","fontSize":23,"color":"#000","align":"left","baseline":"alphabetic"},
   "encoding":{"x":{"datum":16.52,"type":"quantitative"},"y":{"datum":2.154,"type":"quantitative","axis":null}}},
  {"data":{"values":[{}]},"mark":{"type":"text","text":"(PEACE)","fontSize":26,"color":"#000","align":"left","baseline":"alphabetic"},
   "encoding":{"x":{"datum":17.34,"type":"quantitative"},"y":{"datum":2.235,"type":"quantitative","axis":null}}},
  {"data":{"values":[{}]},"mark":{"type":"text","text":"b","font":"DejaVu Sans","fontSize":24,"align":"left","baseline":"alphabetic"},
   "encoding":{"x":{"datum":-4.03,"type":"quantitative"},"y":{"datum":0.118,"type":"quantitative","axis":null}}}
 ]
},
{
 "width":755,"height":372,
 "resolve":{"axis":{"y":"independent"}},
 "layer":[
  {"data":{"name":"te"},"mark":{"type":"line","color":"#000","strokeWidth":1.1},
   "encoding":{
    "x":{"field":"t","type":"quantitative","scale":{"domain":[0,29.55],"nice":false,"zero":false},"axis":{"values":[0,5,10,15,20,25],"tickSize":8,"labelPadding":2,"labelFontSize":21,"labelExpr":"'09:' + (30 + datum.value)","title":null}},
    "y":{"field":"te","type":"quantitative","scale":{"type":"log","domain":[10,3000],"nice":false},"axis":{"orient":"left","values":[20,30,40,50,60,70,80,90,100,200,300,400,500,600,700,800,900,1000,2000],"labels":false,"tickSize":2,"title":null}}}},
  {"data":{"name":"peace"},"mark":{"type":"circle","color":"#000","size":85,"opacity":1},
   "encoding":{"x":{"field":"t","type":"quantitative"},"y":{"field":"te","type":"quantitative","axis":{"orient":"left","values":[10,100,1000,3000],"format":"~g","grid":false,"tickSize":7,"labelPadding":17,"title":"eV","titleFontSize":25,"titlePadding":16,"titleY":123}}}},
  {"data":{"values":[{}]},"mark":{"type":"text","text":"T","fontSize":30,"align":"left","baseline":"alphabetic"},
   "encoding":{"x":{"datum":1.32,"type":"quantitative"},"y":{"datum":1189,"type":"quantitative","axis":null}}},
  {"data":{"values":[{}]},"mark":{"type":"text","text":"e","fontSize":23,"align":"left","baseline":"alphabetic"},
   "encoding":{"x":{"datum":2.1,"type":"quantitative"},"y":{"datum":1113,"type":"quantitative","axis":null}}},
  {"data":{"values":[{}]},"mark":{"type":"text","text":"(PEACE)","fontSize":26,"align":"left","baseline":"alphabetic"},
   "encoding":{"x":{"datum":2.94,"type":"quantitative"},"y":{"datum":1189,"type":"quantitative","axis":null}}},
  {"data":{"values":[{}]},"mark":{"type":"text","text":"c","font":"DejaVu Sans","fontSize":24,"align":"left","baseline":"alphabetic"},
   "encoding":{"x":{"datum":-4.03,"type":"quantitative"},"y":{"datum":11.5,"type":"quantitative","axis":null}}},
  {"data":{"values":[{}]},"mark":{"type":"text","text":"UT","fontSize":21,"align":"center","baseline":"middle","dy":19},
   "encoding":{"x":{"datum":27.71,"type":"quantitative"},"y":{"datum":10,"type":"quantitative","axis":null}}},
  {"data":{"values":[{}]},"mark":{"type":"text","text":"SC1pos/Re","fontSize":21,"align":"left","baseline":"middle","dy":46},
   "encoding":{"x":{"datum":-3.72,"type":"quantitative"},"y":{"datum":10,"type":"quantitative","axis":null}}},
  {"data":{"values":[{}]},"mark":{"type":"text","text":"SC1lat/deg","fontSize":21,"align":"left","baseline":"middle","dy":69},
   "encoding":{"x":{"datum":-3.72,"type":"quantitative"},"y":{"datum":10,"type":"quantitative","axis":null}}},
  {"data":{"values":[{}]},"mark":{"type":"text","text":"SC1 MLT","fontSize":21,"align":"left","baseline":"middle","dy":92},
   "encoding":{"x":{"datum":-3.72,"type":"quantitative"},"y":{"datum":10,"type":"quantitative","axis":null}}},
  {"data":{"name":"orbit"},"mark":{"type":"text","fontSize":22,"align":"center","baseline":"middle","dy":46},
   "encoding":{"x":{"field":"t","type":"quantitative"},"y":{"datum":10,"type":"quantitative","axis":null},"text":{"field":"pos"}}},
  {"data":{"name":"orbit"},"mark":{"type":"text","fontSize":22,"align":"center","baseline":"middle","dy":69},
   "encoding":{"x":{"field":"t","type":"quantitative"},"y":{"datum":10,"type":"quantitative","axis":null},"text":{"field":"lat"}}},
  {"data":{"name":"orbit"},"mark":{"type":"text","fontSize":22,"align":"center","baseline":"middle","dy":92},
   "encoding":{"x":{"field":"t","type":"quantitative"},"y":{"datum":10,"type":"quantitative","axis":null},"text":{"field":"mlt"}}}
 ]
}
]
}
